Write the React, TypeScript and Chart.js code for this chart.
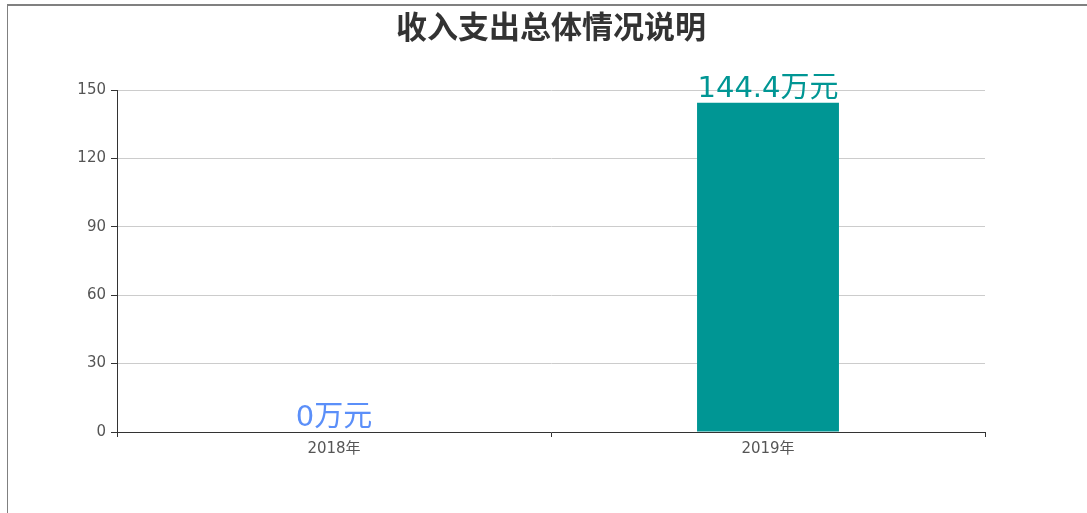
import React, { useEffect, useRef } from "react";
import { Chart, registerables } from "chart.js";

Chart.register(...registerables);

const categories = ["2018年", "2019年"];
const values = [0, 144.4];
const labelColors = ["#5B8FF9", "#009694"];
const yTicks = [0, 30, 60, 90, 120, 150];
const titleText = "收入支出总体情况说明";
const unit = "万元";

const FONT = "'Noto Sans CJK SC', 'Noto Sans', sans-serif";
const NUMFONT = "'DejaVu Sans', 'Noto Sans CJK SC', sans-serif";

const valueLabels = {
  id: "valueLabels",
  afterDatasetsDraw(chart: any) {
    const ctx = chart.ctx;
    const meta = chart.getDatasetMeta(0);
    ctx.save();
    ctx.font = `29px ${NUMFONT}`;
    ctx.textAlign = "center";
    ctx.textBaseline = "alphabetic";
    meta.data.forEach((bar: any, i: number) => {
      ctx.fillStyle = labelColors[i];
      ctx.fillText(`${values[i]}${unit}`, bar.x, bar.y - 6);
    });
    ctx.restore();
  },
};

const titlePlugin = {
  id: "customTitle",
  afterDraw(chart: any) {
    const ctx = chart.ctx;
    ctx.save();
    ctx.font = `bold 31px ${FONT}`;
    ctx.fillStyle = "#333333";
    ctx.textAlign = "center";
    ctx.textBaseline = "middle";
    ctx.fillText(titleText, 551, 26);
    ctx.restore();
  },
};

export default function App() {
  const ref = useRef<HTMLCanvasElement | null>(null);
  useEffect(() => {
    if (!ref.current) return;
    const chart = new Chart(ref.current, {
      type: "bar",
      data: {
        labels: categories,
        datasets: [
          {
            data: values,
            backgroundColor: "#009694",
            barPercentage: 0.327,
            categoryPercentage: 1,
          },
        ],
      },
      options: {
        animation: false,
        responsive: false,
        maintainAspectRatio: false,
        layout: { padding: { left: 0, top: 90, right: 102, bottom: 51 } },
        plugins: {
          legend: { display: false },
          title: { display: false },
          tooltip: { enabled: false },
        },
        scales: {
          x: {
            offset: true,
            afterFit(scale: any) {
              scale.height = 30;
            },
            grid: {
              offset: true,
              drawOnChartArea: false,
              drawTicks: true,
              tickLength: 5,
              tickColor: "#333333",
            },
            border: { display: true, color: "#333333", width: 1 },
            ticks: {
              color: "#555555",
              font: { family: NUMFONT, size: 15 },
              padding: 3,
            },
          },
          y: {
            min: 0,
            max: 150,
            afterFit(scale: any) {
              scale.width = 117;
            },
            afterBuildTicks(scale: any) {
              scale.ticks = yTicks.map((v) => ({ value: v }));
            },
            grid: {
              color: "#cccccc",
              drawTicks: true,
              tickLength: 6,
              tickColor: "#333333",
            },
            border: { display: true, color: "#333333", width: 1 },
            ticks: {
              color: "#555555",
              font: { family: NUMFONT, size: 15 },
              padding: 5,
            },
          },
        },
      },
      plugins: [valueLabels, titlePlugin],
    });
    return () => chart.destroy();
  }, []);

  return (
    <div style={{ position: "absolute", left: 0, top: 0, width: 1087, height: 513, background: "#fff", overflow: "hidden" }}>
      <div
        style={{
          position: "absolute",
          left: 7,
          top: 4,
          width: 1200,
          height: 700,
          borderTop: "2px solid #808080",
          borderLeft: "1px solid #808080",
        }}
      />
      <canvas ref={ref} width={1087} height={513} style={{ position: "absolute", left: 0, top: 0 }} />
    </div>
  );
}
